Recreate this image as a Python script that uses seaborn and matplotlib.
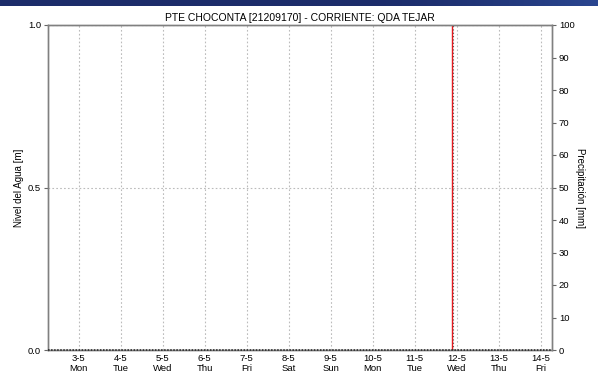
import matplotlib
matplotlib.use("Agg")
import matplotlib.pyplot as plt
import matplotlib.dates as mdates
import numpy as np
import pandas as pd
import seaborn as sns

# ---- data ----
title = "PTE CHOCONTA [21209170] - CORRIENTE: QDA TEJAR"
day_ticks = pd.date_range("2018-05-03", "2018-05-14", freq="D")
tick_labels = ["3-5\nMon", "4-5\nTue", "5-5\nWed", "6-5\nThu", "7-5\nFri", "8-5\nSat",
               "9-5\nSun", "10-5\nMon", "11-5\nTue", "12-5\nWed", "13-5\nThu", "14-5\nFri"]
x_start = pd.Timestamp("2018-05-02 06:30")
x_end = pd.Timestamp("2018-05-14 06:30")
now_marker = pd.Timestamp("2018-05-11 21:30")
precip_times = pd.date_range("2018-05-02 06:30", "2018-05-14 06:30", freq="6h")
precip_values = [0.0] * len(precip_times)
level_left_ticks = [0.0, 0.5, 1.0]
precip_right_ticks = list(range(0, 101, 10))

sns.set_style("white")
plt.rcParams['font.family'] = ['Liberation Sans', 'DejaVu Sans']
plt.rcParams['text.color'] = 'black'
plt.rcParams['axes.labelcolor'] = 'black'
plt.rcParams['xtick.color'] = 'black'
plt.rcParams['ytick.color'] = 'black'

fig = plt.figure(figsize=(5.98, 3.81), dpi=100)
W, H = 598, 381
left, right, top, bottom = 48, 552, 25, 350
ax = fig.add_axes([left / W, 1 - bottom / H, (right - left) / W, (bottom - top) / H])
ax2 = ax.twinx()

# top band
band = fig.add_axes([0, 1 - 6 / H, 1, 6 / H])
grad = np.linspace(0, 1, 256)
cols = np.zeros((1, 256, 3))
c0 = np.array([0x1c, 0x2c, 0x6a]) / 255
c1 = np.array([0x2a, 0x46, 0x90]) / 255
w = np.clip((grad - 0.6) / 0.4, 0, 1) ** 1.5
cols[0] = c0[None, :] * (1 - w[:, None]) + c1[None, :] * w[:, None]
band.imshow(cols, aspect="auto", extent=[0, 1, 0, 1])
band.axis("off")

for a in (ax, ax2):
    for s in a.spines.values():
        s.set_color("#808080")
        s.set_linewidth(1.0)
        s.set_visible(True)

# zero precipitation line (dotted, along bottom)
df = pd.DataFrame({"t": precip_times, "p": precip_values})
sns.lineplot(data=df, x="t", y="p", ax=ax2, color="#222222", lw=1.1,
             linestyle=(0, (1, 1)), zorder=10, clip_on=False)

ax.set_xlim(x_start, x_end)
ax.set_ylim(0, 1)
ax2.set_ylim(0, 100)
ax2.set_xlim(x_start, x_end)

ax.set_xticks(day_ticks)
ax.set_xticklabels(tick_labels, fontsize=6.8, linespacing=1.1)
ax.set_yticks(level_left_ticks)
ax.set_yticklabels(["%.1f" % v for v in level_left_ticks], fontsize=6.8)
ax2.set_yticks(precip_right_ticks)
ax2.set_yticklabels([str(v) for v in precip_right_ticks], fontsize=6.8)
ax2.set_xlabel("")

ax.tick_params(axis="x", length=0, pad=3, labelcolor="black")
ax.tick_params(axis="y", length=3, width=0.8, color="#666666", pad=2, direction="out",
               left=True, labelcolor="black")
ax2.tick_params(axis="y", length=3, width=0.8, color="#666666", pad=2, direction="out",
                right=True, labelcolor="black")

ax.grid(True, axis="both", color="#bbbbbb", linestyle=(0, (1.5, 2)), lw=0.8)
ax.set_axisbelow(True)

ax.axvline(now_marker, color="#e8191e", lw=1.0, zorder=6)
ax.axvline(now_marker + pd.Timedelta(minutes=40), color="#555555", lw=0.8,
           linestyle=(0, (1, 2)), zorder=6)

ax.set_ylabel("Nivel del Agua [m]", fontsize=7, color="black")
ax.yaxis.set_label_coords((24 - left) / (right - left), 0.5)
ax2.set_ylabel("Precipitación [mm]", fontsize=7, rotation=270, va="center", color="black")
ax2.yaxis.set_label_coords((580 - left) / (right - left), 0.5)
ax.set_title(title, fontsize=7.5, pad=3, color="black")

fig.savefig("out.png", dpi=100, facecolor="white")
